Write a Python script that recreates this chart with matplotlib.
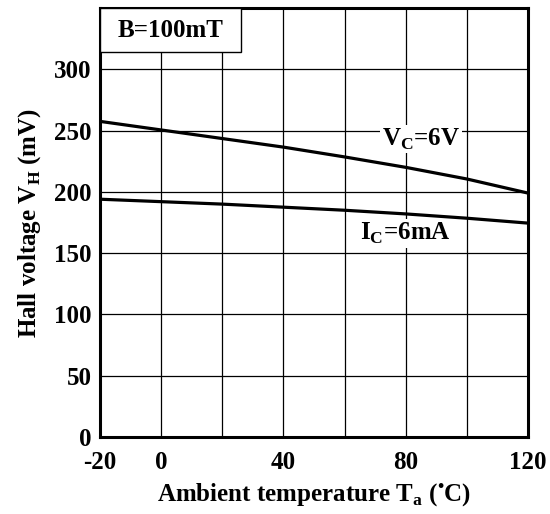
import numpy as np
import matplotlib.pyplot as plt
from matplotlib.patches import Rectangle

plt.rcParams['font.family'] = ['Liberation Serif', 'DejaVu Serif']
plt.rcParams['font.weight'] = 'bold'
plt.rcParams['mathtext.fontset'] = 'custom'
plt.rcParams['mathtext.rm'] = 'Liberation Serif:bold'
plt.rcParams['mathtext.bf'] = 'Liberation Serif:bold'

# данные
temp = [-20, 0, 20, 40, 60, 80, 100, 120]
vh_vc6v = [257.5, 250.5, 243.5, 236.5, 228.5, 220, 210.5, 199]
vh_ic6ma = [194, 192, 190, 187.5, 185, 182, 178.5, 174.5]

xticks = [-20, 0, 40, 80, 120]
xticklabels = ['-20', '0', '40', '80', '120']
yticks = [0, 50, 100, 150, 200, 250, 300]

fs = 18

fig = plt.figure(figsize=(5.5, 5.14), dpi=100)
ax = fig.add_axes([100/550, 77/514, 428/550, 429/514])

ax.set_xlim(-20, 120)
ax.set_ylim(0, 350)
ax.set_xticks(np.arange(-20, 121, 20), minor=True)
ax.set_xticks(xticks)
ax.set_xticklabels(xticklabels)
ax.set_yticks(yticks)
ax.grid(True, which='both', axis='x', color='black', lw=0.9)
ax.grid(True, axis='y', color='black', lw=0.9)
ax.tick_params(which='both', length=0, labelsize=fs)
ax.tick_params(axis='x', pad=10)
ax.tick_params(axis='y', pad=6)
for lab in ax.get_xticklabels() + ax.get_yticklabels():
    lab.set_fontweight('bold')
for s in ax.spines.values():
    s.set_linewidth(2.2)

ax.plot(temp, vh_vc6v, color='black', lw=2.3)
ax.plot(temp, vh_ic6ma, color='black', lw=2.3)

ax.text(85, 243, 'V$_\\mathrm{C}$=6V', fontsize=fs, ha='center', va='center',
        fontweight='bold', bbox=dict(facecolor='white', edgecolor='none', pad=1))
ax.text(80, 166, 'I$_\\mathrm{C}$=6mA', fontsize=fs, ha='center', va='center',
        fontweight='bold', bbox=dict(facecolor='white', edgecolor='none', pad=1))

# рамка B=100mT
ax.add_patch(Rectangle((-20, 314), 46, 36, facecolor='white', edgecolor='black', lw=1.0, zorder=3))
ax.text(3, 332, 'B=100mT', fontsize=fs, ha='center', va='center', fontweight='bold', zorder=4)

ax.set_xlabel('Ambient temperature T$_\\mathrm{a}$ ($^\\mathrm{\u2022}$C)', fontsize=fs, fontweight='bold', labelpad=6)
ax.set_ylabel('Hall voltage V$_\\mathrm{H}$ (mV)', fontsize=fs, fontweight='bold', labelpad=8)

fig.savefig('out.png', dpi=100)
